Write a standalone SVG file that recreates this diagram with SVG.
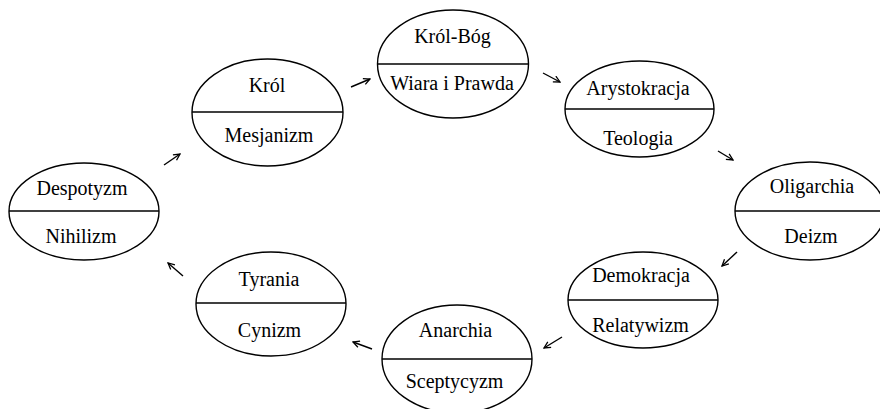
<svg xmlns="http://www.w3.org/2000/svg" width="880" height="409" viewBox="0 0 880 409">
<defs>
<marker id="ah" viewBox="0 0 10 10" refX="9" refY="5" markerWidth="8" markerHeight="8" markerUnits="userSpaceOnUse" orient="auto">
<path d="M1,1 L9,5 L1,9" fill="none" stroke="#000" stroke-width="1.6"/>
</marker>
<style>
.e{fill:#fff;stroke:#000;stroke-width:1.4}
.d{stroke:#000;stroke-width:1.4}
.t{font-family:"Liberation Serif","DejaVu Serif",serif;font-size:20px;fill:#000;text-anchor:middle}
.a{stroke:#000;stroke-width:1.4;fill:none;marker-end:url(#ah)}
</style>
</defs>
<rect width="880" height="409" fill="#fff"/>
<g id="despotyzm">
<ellipse class="e" cx="84" cy="211.5" rx="75" ry="48.5"/>
<line class="d" x1="9" y1="211" x2="159" y2="211"/>
<text class="t" x="82" y="195">Despotyzm</text>
<text class="t" x="81" y="243">Nihilizm</text>
</g>
<g id="krol">
<ellipse class="e" cx="267.5" cy="112.5" rx="75.5" ry="53.5"/>
<line class="d" x1="192" y1="112" x2="343" y2="112"/>
<text class="t" x="267" y="92">Król</text>
<text class="t" x="269" y="142">Mesjanizm</text>
</g>
<g id="krol-bog">
<ellipse class="e" cx="453" cy="64" rx="75.5" ry="54"/>
<line class="d" x1="378" y1="64" x2="528" y2="64"/>
<text class="t" x="452.5" y="43">Król-Bóg</text>
<text class="t" x="452" y="90">Wiara i Prawda</text>
</g>
<g id="arystokracja">
<ellipse class="e" cx="639.5" cy="109" rx="74.5" ry="48"/>
<line class="d" x1="565" y1="109" x2="714" y2="109"/>
<text class="t" x="638" y="95">Arystokracja</text>
<text class="t" x="638" y="145">Teologia</text>
</g>
<g id="oligarchia">
<ellipse class="e" cx="810" cy="211" rx="75" ry="49"/>
<line class="d" x1="735" y1="211" x2="880" y2="211"/>
<text class="t" x="812" y="193">Oligarchia</text>
<text class="t" x="811" y="243">Deizm</text>
</g>
<g id="demokracja">
<ellipse class="e" cx="643" cy="300" rx="75" ry="48"/>
<line class="d" x1="568" y1="300" x2="718" y2="300"/>
<text class="t" x="641" y="282">Demokracja</text>
<text class="t" x="640.5" y="332">Relatywizm</text>
</g>
<g id="anarchia">
<ellipse class="e" cx="457" cy="359" rx="75" ry="54"/>
<line class="d" x1="382" y1="359" x2="532" y2="359"/>
<text class="t" x="455.5" y="337">Anarchia</text>
<text class="t" x="454.5" y="388">Sceptycyzm</text>
</g>
<g id="tyrania">
<ellipse class="e" cx="271" cy="304" rx="75" ry="52"/>
<line class="d" x1="196" y1="303" x2="346" y2="303"/>
<text class="t" x="269" y="286">Tyrania</text>
<text class="t" x="269.5" y="337">Cynizm</text>
</g>
<g id="connectors">
<line class="a" x1="164" y1="165" x2="180" y2="154"/>
<line class="a" x1="351" y1="87" x2="370" y2="79"/>
<line class="a" x1="543" y1="73" x2="560" y2="82"/>
<line class="a" x1="718" y1="151" x2="733" y2="160"/>
<line class="a" x1="737" y1="252" x2="722" y2="266"/>
<line class="a" x1="562" y1="337" x2="544" y2="348"/>
<line class="a" x1="372" y1="349" x2="353" y2="342"/>
<line class="a" x1="183" y1="276" x2="168" y2="263"/>
</g>
</svg>
